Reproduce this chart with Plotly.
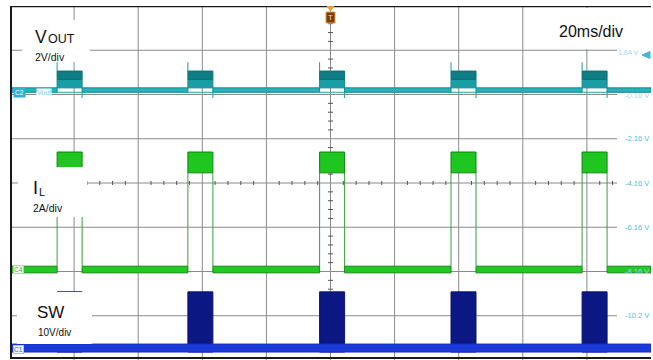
import plotly.graph_objects as go

# ---- screen geometry ---------------------------------------------------
W, H = 653, 360
ML, MR, MT, MB = 10, 2, 6, 0
T_SPAN = 200.0            # 10 divisions x 20 ms
N_YDIV = 8

def tx(px):
    """pixel column -> time (ms)"""
    return (px - ML) * T_SPAN / (W - ML - MR)

def dy(py):
    """pixel row -> vertical divisions from screen centre"""
    return N_YDIV / 2 - (py - MT) * N_YDIV / (H - MT - MB)

# ---- captured waveform data ----------------------------------------------
burst_start_ms = [14.7, 55.5, 96.6, 137.6, 178.5]
burst_end_ms = [22.5, 63.3, 104.4, 145.4, 186.3]

# levels in screen divisions (C2: 2 V/div, C4: 2 A/div, C1: 10 V/div)
vout_idle = [2.05, 2.15]
vout_burst = [2.15, 2.53]
vout_burst_mid = 2.34
vout_burst_floor = 2.05
vout_edge_peak = 2.73
vout_edge_dip = 1.92

il_idle = [-2.03, -1.88]
il_burst = [0.23, 0.70]

sw_idle = [-3.82, -3.64]
sw_burst_top = -2.46

scale_labels = ["1.84 V", "-0.16 V", "-2.16 V", "-4.16 V", "-6.16 V", "-8.16 V", "-10.2 V"]
scale_label_rows = [3, 2, 1, 0, -1, -2, -3]

# ---- helpers ----------------------------------------------------------------
idle_spans = []
prev = 0.0
for s, e in zip(burst_start_ms, burst_end_ms):
    idle_spans.append((prev, s))
    prev = e
idle_spans.append((prev, T_SPAN))
burst_spans = list(zip(burst_start_ms, burst_end_ms))


def rects(spans, lo, hi):
    xs, ys = [], []
    for a, b in spans:
        xs += [a, b, b, a, a, None]
        ys += [lo, lo, hi, hi, lo, None]
    return xs, ys


def segs(pairs):
    xs, ys = [], []
    for (x0, y0), (x1, y1) in pairs:
        xs += [x0, x1, None]
        ys += [y0, y1, None]
    return xs, ys


fig = go.Figure()


def add_fill(xs, ys, fill, line, lw=1):
    fig.add_trace(go.Scatter(x=xs, y=ys, mode="lines", fill="toself",
                             fillcolor=fill, line=dict(color=line, width=lw),
                             hoverinfo="skip", showlegend=False))


def add_line(xs, ys, color, lw=1):
    fig.add_trace(go.Scatter(x=xs, y=ys, mode="lines",
                             line=dict(color=color, width=lw),
                             hoverinfo="skip", showlegend=False))


# SW (C1): switching bursts over a continuous noisy floor
add_fill(*rects(burst_spans, sw_idle[0], sw_burst_top), "#0b1783", "#0a1470")
add_fill(*rects([(0.0, T_SPAN)], sw_idle[0], sw_idle[1]), "#1d3bd8", "#1530c0")

# IL (C4)
add_line(*segs([((s, il_idle[1]), (s, il_burst[0])) for s in burst_start_ms] +
               [((e, il_burst[0]), (e, il_idle[1])) for e in burst_end_ms]),
         "#3c9c3c", 1)
add_fill(*rects(idle_spans, il_idle[0], il_idle[1]), "#22c922", "#118a11")
add_fill(*rects(burst_spans, il_burst[0], il_burst[1]), "#1fc61f", "#0d850d")

# VOUT (C2)
add_fill(*rects(idle_spans, vout_idle[0], vout_idle[1]), "#27b3bb", "#13888f")
add_line(*segs([((s, vout_burst_floor), (e, vout_burst_floor)) for s, e in burst_spans]),
         "#1fa3ab", 1)
add_fill(*rects(burst_spans, vout_burst[0], vout_burst_mid), "#1a9ea6", "#14868d")
add_fill(*rects(burst_spans, vout_burst_mid, vout_burst[1]), "#0f7d84", "#0d7278")
add_line(*segs([((s, vout_burst[1]), (s, vout_edge_peak)) for s in burst_start_ms] +
               [((e, vout_burst_floor), (e, vout_edge_dip)) for e in burst_end_ms]),
         "#1c9aa2", 1)

# ---- graticule -------------------------------------------------------------
shapes = []
GRID = "#8a8a8a"
h_end = tx(617)
for k in range(1, 10):
    shapes.append(dict(type="line", xref="x", yref="y", x0=20 * k, x1=20 * k,
                       y0=-4, y1=4, line=dict(color=GRID, width=1), layer="below"))
for r in range(-3, 4):
    shapes.append(dict(type="line", xref="x", yref="y", x0=0, x1=h_end,
                       y0=r, y1=r, line=dict(color=GRID, width=1), layer="below"))

# minor ticks along the centre lines
tick_path = ""
hx = 0.045
t = 4.0
while t < h_end:
    if abs(t % 20) > 1e-6:
        tick_path += f"M{t},{-hx} L{t},{hx} "
    t += 4.0
ht = tx(ML + 2.5) - tx(ML)
v = -3.8
while v < 3.9:
    if abs(v - round(v)) > 1e-6:
        tick_path += f"M{100 - ht},{v:.2f} L{100 + ht},{v:.2f} "
    v += 0.2
shapes.append(dict(type="path", xref="x", yref="y", path=tick_path,
                   line=dict(color="#555555", width=1), layer="below"))

# frame
FRAME = "#1a1a1a"
shapes.append(dict(type="line", xref="x", yref="y", x0=0, x1=T_SPAN, y0=4, y1=4,
                   line=dict(color=FRAME, width=2.5), layer="above"))
shapes.append(dict(type="line", xref="x", yref="y", x0=tx(ML + 1), x1=tx(ML + 1),
                   y0=dy(358), y1=4, line=dict(color=FRAME, width=2), layer="above"))
shapes.append(dict(type="line", xref="x", yref="y", x0=0, x1=T_SPAN,
                   y0=dy(358), y1=dy(358), line=dict(color=FRAME, width=2), layer="above"))

# white label panels
def panel(x0, y0, x1, y1):
    shapes.append(dict(type="rect", xref="x", yref="y", x0=tx(x0), x1=tx(x1),
                       y0=dy(y1), y1=dy(y0), fillcolor="white",
                       line=dict(width=0), layer="above"))

panel(22, 20, 90, 62)
panel(18, 167, 87, 217)
panel(17, 292, 92, 344)
panel(530, 8, 652, 49)

# trigger marker: orange pointer and brown "T" box
shapes.append(dict(type="path", xref="x", yref="y",
                   path=f"M{tx(327)},{dy(6)} L{tx(334)},{dy(6)} L{tx(330.5)},{dy(11)} Z",
                   fillcolor="#f0a030", line=dict(color="#f0a030", width=1), layer="above"))
shapes.append(dict(type="rect", xref="x", yref="y", x0=tx(326), x1=tx(335),
                   y0=dy(23), y1=dy(12), fillcolor="#7a3a12",
                   line=dict(color="#e8a040", width=1), layer="above"))

# channel-1 reference pointer on the right edge
shapes.append(dict(type="path", xref="x", yref="y",
                   path=f"M{tx(642)},{dy(55)} L{tx(650)},{dy(51.5)} L{tx(650)},{dy(58.5)} Z",
                   fillcolor="#3db9d6", line=dict(color="#3db9d6", width=1), layer="above"))

# ---- text -----------------------------------------------------------------
ann = []
FONT = "Liberation Sans, Arial, sans-serif"


def text(px, py, s, size, color="#111111", anchor="left", **kw):
    ann.append(dict(x=tx(px), y=dy(py), xref="x", yref="y", text=s, showarrow=False,
                    xanchor=anchor, yanchor="middle",
                    font=dict(family=FONT, size=size, color=color), **kw))


# channel captions: main symbol plus smaller subscript, set as separate runs
text(33, 37, "V", 17.5)
text(45.5, 38.5, "OUT", 12.5)
text(33, 57, "2V/div", 10.5)
text(31, 188, "I", 18)
text(36.5, 192, "L", 11)
text(31, 208, "2A/div", 10.5)
text(35, 312, "SW", 17)
text(36, 332, "10V/div", 10)
text(557, 31, "20ms/div", 16)

# right-hand channel scale readouts
for lab, r in zip(scale_labels, scale_label_rows):
    py = MT + (4 - r) * (H - MT - MB) / N_YDIV
    if r == 3:
        text(641, py + 2, lab, 7, color="#9adbe8", anchor="right")
    else:
        text(651, py + (1 if r == 2 else 0), lab, 7.5,
             color="#9adbe8" if r in (2, -2) else "#4fc0da", anchor="right")

# channel tags on the left edge
text(13, 92.5, "C2", 6.5, color="white", bgcolor="#2bb4d0", borderpad=1)
text(36, 92.5, "Vout", 7, color="#7fd0de", bgcolor="white", borderpad=0)
text(13, 269.5, "C4", 6.5, color="#5aa85a", bgcolor="#eefbe8",
     bordercolor="#a8dca8", borderwidth=1, borderpad=0)
text(13, 349, "C1", 6.5, color="#4060c8", bgcolor="#eef2fc",
     bordercolor="#b0bff0", borderwidth=1, borderpad=0)

# trigger label
text(330.5, 17.5, "T", 8, color="#f4d8a8", anchor="center")

fig.update_layout(
    width=W, height=H,
    margin=dict(l=ML, r=MR, t=MT, b=MB, pad=0),
    paper_bgcolor="white", plot_bgcolor="white",
    xaxis=dict(range=[0, T_SPAN], showgrid=False, zeroline=False,
               showticklabels=False, ticks="", fixedrange=True),
    yaxis=dict(range=[-4, 4], showgrid=False, zeroline=False,
               showticklabels=False, ticks="", fixedrange=True),
    shapes=shapes, annotations=ann, showlegend=False,
)

fig.write_html("out.html")
